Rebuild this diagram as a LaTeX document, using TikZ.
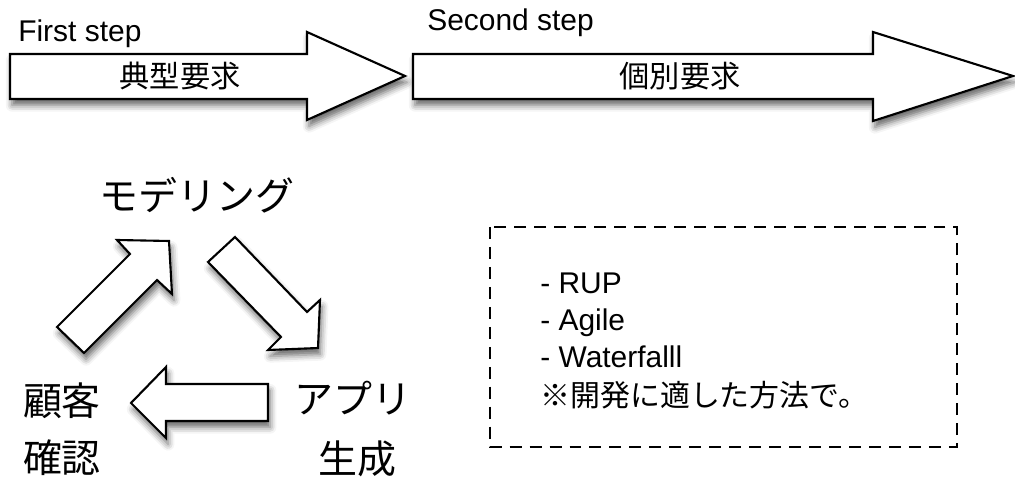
\documentclass[tikz,border=0pt]{standalone}
\usepackage{fontspec}
\setmainfont{Liberation Sans}
\newfontfamily\cjk{Noto Sans CJK JP}
\usetikzlibrary{shadows.blur}

\tikzset{
	blockarrow/.style={draw, fill=white, line width=1.5pt, line join=miter,
		blur shadow={shadow xshift=1.5pt, shadow yshift=-4.5pt, shadow blur radius=4.5pt, shadow opacity=60}},
	steplabel/.style={anchor=base west, inner sep=0pt, font=\fontsize{21.3}{25}\selectfont},
	phase/.style={anchor=base, inner sep=0pt, font=\cjk\fontsize{21.5}{25}\selectfont},
	activity/.style={anchor=base, inner sep=0pt, font=\cjk\fontsize{27.7}{32}\selectfont},
}

\begin{document}
\begin{tikzpicture}[x=0.025cm, y=-0.025cm]
	\useasboundingbox (0,0) rectangle (1015,477);
	% steps
	\draw[blockarrow] (10,54) -- (307,54) -- (307,32) -- (405,76) -- (307,120) -- (307,99) -- (10,99) -- cycle;
	\draw[blockarrow] (413,54) -- (873,54) -- (873,32) -- (1013,76) -- (873,121) -- (873,99) -- (413,99) -- cycle;
	\node[steplabel] (first) at (18,42) {First step};
	\node[steplabel] (second) at (427,31) {Second step};
	\node[phase] (typical) at (180,88) {典型要求};
	\node[phase] (individual) at (680,88) {個別要求};
	% cycle
	\node[activity] (modeling) at (197,211) {モデリング};
	\node[activity] (app) at (353,414) {アプリ};
	\node[activity] (gen) at (357,474) {生成};
	\node[activity] (customer) at (62,416) {顧客};
	\node[activity] (check) at (62,473) {確認};
	\draw[blockarrow] (57,327) -- (130,254) -- (117,240) -- (169,241) -- (172,294) -- (157,280) -- (84,353) -- cycle;
	\draw[blockarrow] (235,237) -- (307,312) -- (320,300) -- (318,348) -- (268,350) -- (281,337) -- (208,262) -- cycle;
	\draw[blockarrow] (268,384) -- (166,384) -- (166,367) -- (131,403) -- (166,438) -- (166,421) -- (268,421) -- cycle;
	% methods
	\draw[line width=1.4pt, dash pattern=on 8.5pt off 5.7pt] (490,227) rectangle (957,447);
	\node[anchor=north west, align=left, inner sep=0pt, font=\fontsize{21.3}{26.3}\selectfont] (methods) at (540,273)
		{- RUP\\- Agile\\- Waterfalll\\[1pt]{\cjk ※開発に適した方法で。}};
\end{tikzpicture}
\end{document}
